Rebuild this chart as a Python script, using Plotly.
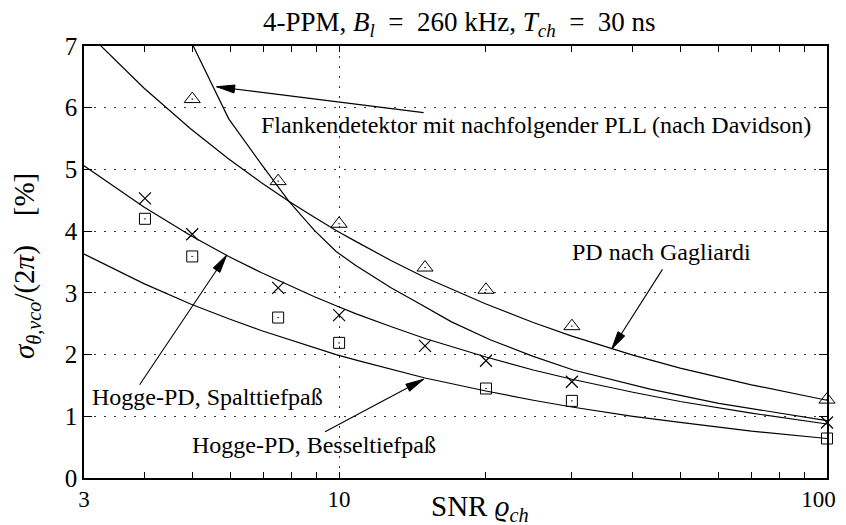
import numpy as np
import plotly.graph_objects as go

# ---- data (curves are polylines, as in the original) ----
gag_x = [3.0, 3.98, 4.96, 5.94, 6.92, 7.90, 8.88, 9.86, 10.84, 12.8, 15, 20, 25, 30, 40, 50, 70, 100]
gag_y = [7.27, 6.32, 5.66, 5.17, 4.79, 4.48, 4.23, 4.01, 3.83, 3.52, 3.25, 2.82, 2.52, 2.30, 1.99, 1.78, 1.51, 1.26]

flank_x = [4.96, 5.94, 6.92, 7.90, 8.88, 9.86, 10.84, 12.8, 14.2, 17, 20.4, 25, 30.2, 43.4, 60, 100]
flank_y = [7.09, 5.82, 5.09, 4.48, 4.02, 3.67, 3.44, 3.08, 2.88, 2.53, 2.24, 1.97, 1.75, 1.44, 1.21, 0.93]

spalt_x = [3.0, 3.98, 4.96, 5.94, 6.92, 7.90, 8.88, 9.86, 10.84, 12.8, 15, 20, 25, 30, 40, 50, 70, 100]
spalt_y = [5.06, 4.39, 3.93, 3.59, 3.33, 3.12, 2.94, 2.79, 2.66, 2.45, 2.26, 1.96, 1.75, 1.60, 1.39, 1.24, 1.05, 0.875]

bessel_x = [3.0, 3.98, 4.96, 5.94, 6.92, 7.90, 8.88, 9.86, 10.84, 12.8, 15, 20, 25, 30, 40, 50, 70, 100]
bessel_y = [3.63, 3.15, 2.82, 2.58, 2.39, 2.24, 2.11, 2.00, 1.91, 1.76, 1.62, 1.41, 1.26, 1.15, 1.00, 0.90, 0.76, 0.64]

# measured points
tri_x = [5, 7.5, 10, 15, 20, 30, 100]
tri_y = [6.14, 4.81, 4.12, 3.41, 3.05, 2.46, 1.27]

cross_x = [4, 5, 7.5, 10, 15, 20, 30, 100]
cross_y = [4.53, 3.95, 3.08, 2.64, 2.14, 1.90, 1.56, 0.90]

sq_x = [3, 4, 5, 7.5, 10, 20, 30, 100]
sq_y = [5.48, 4.20, 3.59, 2.60, 2.19, 1.45, 1.25, 0.64]

x_major = [3, 10, 100]
x_major_text = ["3", "10", "100&nbsp;&nbsp;&nbsp;"]
x_minor = [4, 5, 6, 7, 8, 9, 20, 30, 40, 50, 60, 70, 80, 90]
y_ticks = [0, 1, 2, 3, 4, 5, 6, 7]

# annotation texts and arrows (head x, head y, tail x, tail y)
labels = ["Flankendetektor mit nachfolgender PLL (nach Davidson)",
          "PD nach Gagliardi",
          "Hogge-PD, Spalttiefpaß",
          "Hogge-PD, Besseltiefpaß"]
label_x = [25.3, 45.8, 5.37, 8.88]
label_y = [5.72, 3.67, 1.32, 0.53]
arrow_head_x = [5.61, 36.2, 5.88, 14.9]
arrow_head_y = [6.34, 2.09, 3.61, 1.60]
arrow_tail_x = [14.9, 46.0, 3.9, 9.36]
arrow_tail_y = [5.92, 3.38, 1.51, 0.75]

FONT = "Liberation Serif, Times New Roman, serif"
X_RANGE = (3, 100)
Y_RANGE = (0, 7)
PLOT_W, PLOT_H = 743, 432

fig = go.Figure()
for xs, ys in [(gag_x, gag_y), (flank_x, flank_y), (spalt_x, spalt_y), (bessel_x, bessel_y)]:
    fig.add_trace(go.Scatter(x=xs, y=ys, mode="lines", line=dict(color="black", width=1.2),
                             showlegend=False, hoverinfo="skip"))

fig.add_trace(go.Scatter(x=tri_x, y=tri_y, mode="markers",
                         marker=dict(symbol="triangle-up-open-dot", size=14, color="black", line=dict(width=1)),
                         showlegend=False, cliponaxis=False))
fig.add_trace(go.Scatter(x=cross_x, y=cross_y, mode="markers",
                         marker=dict(symbol="x-thin-open", size=12, color="black", line=dict(width=1.2, color="black")),
                         showlegend=False, cliponaxis=False))
fig.add_trace(go.Scatter(x=sq_x, y=sq_y, mode="markers",
                         marker=dict(symbol="square-open-dot", size=11, color="black", line=dict(width=1)),
                         showlegend=False, cliponaxis=False))

# arrows: shaft as a line, head as a narrow filled triangle (sized in pixels via the axis scales)
px_per_dec = PLOT_W / np.log10(X_RANGE[1] / X_RANGE[0])
px_per_unit = PLOT_H / (Y_RANGE[1] - Y_RANGE[0])
HEAD_L, HEAD_HW = 18, 4
for hx, hy, tx, ty in zip(arrow_head_x, arrow_head_y, arrow_tail_x, arrow_tail_y):
    fig.add_trace(go.Scatter(x=[tx, hx], y=[ty, hy], mode="lines", line=dict(color="black", width=1.1),
                             showlegend=False, hoverinfo="skip"))
    dx = (np.log10(tx) - np.log10(hx)) * px_per_dec
    dy = (ty - hy) * px_per_unit
    n = np.hypot(dx, dy)
    ux, uy = dx / n, dy / n
    bx, by = ux * HEAD_L, uy * HEAD_L
    pts = [(0.0, 0.0), (bx - uy * HEAD_HW, by + ux * HEAD_HW), (bx + uy * HEAD_HW, by - ux * HEAD_HW), (0.0, 0.0)]
    hxs = [10 ** (np.log10(hx) + p[0] / px_per_dec) for p in pts]
    hys = [hy + p[1] / px_per_unit for p in pts]
    fig.add_trace(go.Scatter(x=hxs, y=hys, mode="lines", fill="toself", fillcolor="black",
                             line=dict(color="black", width=1), showlegend=False, hoverinfo="skip"))

annotations = []
for t, lx, ly in zip(labels, label_x, label_y):
    annotations.append(dict(x=np.log10(lx), y=ly, xref="x", yref="y", text=t, showarrow=False,
                            xanchor="center", yanchor="middle",
                            font=dict(family=FONT, size=24, color="black")))

annotations.append(dict(x=0.505, y=1.052, xref="paper", yref="paper", xanchor="center", yanchor="middle",
                        text="4-PPM, <i>B<sub>l</sub></i>&nbsp; = &nbsp;260 kHz, <i>T<sub>ch</sub></i>&nbsp; = &nbsp;30 ns",
                        showarrow=False, font=dict(family=FONT, size=27, color="black")))
annotations.append(dict(x=0.533, y=-0.069, xref="paper", yref="paper", xanchor="center", yanchor="middle",
                        text="SNR <i>ϱ<sub>ch</sub></i>", showarrow=False,
                        font=dict(family=FONT, size=29, color="black")))
annotations.append(dict(x=-0.077, y=0.49, xref="paper", yref="paper", textangle=-90,
                        xanchor="center", yanchor="middle",
                        text="<i>σ<sub>θ,vco</sub></i>/(2<i>π</i>)&nbsp;&nbsp;&nbsp;&nbsp;[%]", showarrow=False,
                        font=dict(family=FONT, size=29, color="black")))

fig.update_layout(
    width=838, height=517,
    margin=dict(l=76, r=19, t=38, b=47, autoexpand=False),
    paper_bgcolor="white", plot_bgcolor="white",
    font=dict(family=FONT, size=24, color="black"),
    annotations=annotations,
    showlegend=False,
)
fig.update_xaxes(type="log", range=[np.log10(X_RANGE[0]), np.log10(X_RANGE[1])], automargin=False,
                 tickvals=x_major, ticktext=x_major_text, ticklabeloverflow="allow",
                 ticks="inside", ticklen=6, tickwidth=1, tickcolor="black",
                 showline=True, linecolor="black", linewidth=1.5, mirror="ticks",
                 showgrid=True, gridcolor="#333", gridwidth=1, griddash="2px,8px",
                 minor=dict(tickvals=x_minor, ticks="inside", ticklen=6, tickcolor="black", showgrid=False),
                 zeroline=False, tickfont=dict(family=FONT, size=23))
fig.update_yaxes(range=list(Y_RANGE), tickvals=y_ticks, automargin=False,
                 ticks="inside", ticklen=8, tickwidth=1, tickcolor="black",
                 showline=True, linecolor="black", linewidth=1.5, mirror="ticks",
                 showgrid=True, gridcolor="#333", gridwidth=1, griddash="2px,8px",
                 zeroline=False, tickfont=dict(family=FONT, size=25))

fig.write_html("out.html")
